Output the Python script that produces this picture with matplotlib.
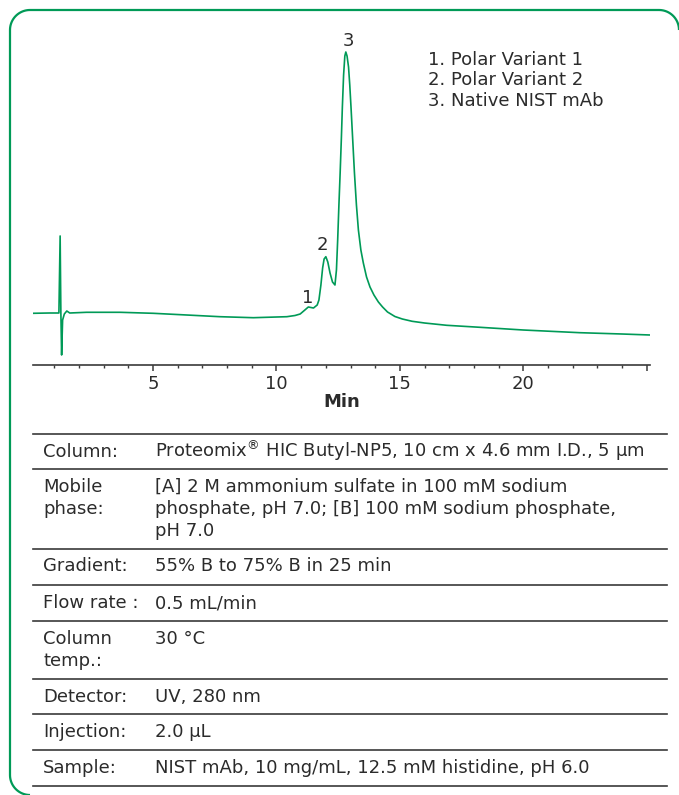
import numpy as np
import matplotlib
matplotlib.use("Agg")
import matplotlib.pyplot as plt
from matplotlib.patches import PathPatch
from matplotlib.path import Path
from matplotlib.lines import Line2D

# ---------------- data ----------------
time_min = [0.13, 0.8, 1.18, 1.23, 1.26, 1.29, 1.33, 1.40, 1.50, 1.62, 2.3, 3.66,
            5.0, 6.36, 7.71, 9.06, 10.42, 10.75, 10.96, 11.15, 11.29, 11.5, 11.65,
            11.72, 11.8, 11.87, 11.93, 12.0, 12.08, 12.17, 12.27, 12.37, 12.43,
            12.48, 12.53, 12.58, 12.63, 12.67, 12.72, 12.77, 12.81, 12.86, 12.92,
            12.97, 13.02, 13.09, 13.16, 13.24, 13.32, 13.42, 13.52, 13.65, 13.79,
            13.95, 14.13, 14.3, 14.5, 14.8, 15.1, 15.5, 16.0, 16.9, 18.25, 20.0,
            22.3, 24.0, 25.14]
signal = [51.7, 52, 52, 129, 52, 10, 45, 51, 54, 52, 52.7, 52.7,
          51.7, 50, 48.3, 47.3, 48.3, 49.5, 51, 55, 58, 57, 60,
          65, 80, 97, 106, 108.3, 103, 92, 83, 80, 95,
          125, 160, 192, 227, 258, 290, 309, 313, 309, 298,
          280, 258, 225, 192, 160, 135, 115, 102, 88, 78,
          70, 63, 58, 53, 48.5, 46, 43.7, 42, 39.7, 37.7, 35,
          32.3, 31, 30]

peak_labels = ["1", "2", "3"]
peak_label_time = [11.25, 11.85, 12.9]
peak_label_signal = [67, 120, 324]

legend_lines = ["1. Polar Variant 1", "2. Polar Variant 2", "3. Native NIST mAb"]

major_ticks = [5, 10, 15, 20, 25]
major_tick_labels = ["5", "10", "15", "20", ""]
minor_ticks = [1, 2, 3, 4, 6, 7, 8, 9, 11, 12, 13, 14, 16, 17, 18, 19, 21, 22, 23, 24]
x_label = "Min"

table_labels = ["Column:", "Mobile\nphase:", "Gradient:", "Flow rate :", "Column\ntemp.:",
                "Detector:", "Injection:", "Sample:"]
table_values = ["Proteomix$^{\\circledR}$ HIC Butyl-NP5, 10 cm x 4.6 mm I.D., 5 \u00b5m",
                "[A] 2 M ammonium sulfate in 100 mM sodium\nphosphate, pH 7.0; [B] 100 mM sodium phosphate,\npH 7.0",
                "55% B to 75% B in 25 min",
                "0.5 mL/min",
                "30 \u00b0C",
                "UV, 280 nm",
                "2.0 \u00b5L",
                "NIST mAb, 10 mg/mL, 12.5 mM histidine, pH 6.0"]

# ---------------- layout ----------------
W, H = 679, 795
GREEN = "#009a57"
DARK = "#2b2b2b"
plt.rcParams['font.family'] = ['DejaVu Sans']
plt.rcParams['mathtext.fontset'] = 'dejavusans'

fig = plt.figure(figsize=(W / 100, H / 100), dpi=100)

def fx(x):
    return x / W

def fy(y):
    return 1 - y / H

# green rounded frame: visible parts only (display px, origin bottom-left)
R = 20
left_x, right_x, top_y, bot_y = 10, 679, 785, 0

def arc(cx, cy, a0, a1, n=24):
    a = np.radians(np.linspace(a0, a1, n))
    return list(zip(cx + R * np.cos(a), cy + R * np.sin(a)))

pts = []
pts += arc(left_x + R, bot_y + R, 270, 180)
pts += arc(left_x + R, top_y - R, 180, 90)
pts += arc(right_x - R, top_y - R, 90, 0)
verts = [(x / 100, y / 100) for x, y in pts]
codes = [Path.MOVETO] + [Path.LINETO] * (len(verts) - 1)
frame = PathPatch(Path(verts, codes), transform=fig.dpi_scale_trans, fill=False,
                  edgecolor=GREEN, linewidth=1.6, capstyle='butt', joinstyle='round')
fig.add_artist(frame)

# chart axes
ax_l, ax_r, ax_b, ax_t = 33, 650, 365, 30
ax = fig.add_axes([fx(ax_l), fy(ax_b), fx(ax_r - ax_l), (ax_b - ax_t) / H])
ax.plot(time_min, signal, color=GREEN, linewidth=1.2, solid_joinstyle='round')
ax.set_xlim(0.13, 25.14)
ax.set_ylim(0, ax_b - ax_t)
for s in ["left", "right", "top"]:
    ax.spines[s].set_visible(False)
ax.spines["bottom"].set_color("#3a3a3a")
ax.spines["bottom"].set_linewidth(1.2)
ax.set_yticks([])
ax.set_xticks(major_ticks)
ax.set_xticklabels(major_tick_labels)
ax.set_xticks(minor_ticks, minor=True)
ax.tick_params(axis="x", which="major", direction="out", length=4.5, width=1.1,
               color="#3a3a3a", labelsize=13, labelcolor=DARK, pad=3)
ax.tick_params(axis="x", which="minor", direction="out", length=2.5, width=1.0,
               color="#3a3a3a")
ax.patch.set_alpha(0)

for lab, t, s in zip(peak_labels, peak_label_time, peak_label_signal):
    ax.text(t, s, lab, ha="center", va="center", fontsize=13, color=DARK)

fig.text(fx(342), fy(402), x_label, ha="center", va="center", fontsize=13,
         fontweight="bold", color=DARK)

for i, line in enumerate(legend_lines):
    fig.text(fx(428), fy([60, 80, 101][i]), line, ha="left", va="center",
             fontsize=13, color=DARK)

# table
rule_y = [434, 469, 549, 585, 621, 679, 714, 750, 786]
for y in rule_y:
    fig.add_artist(Line2D([fx(33), fx(667)], [fy(y), fy(y)], color="#3a3a3a",
                          linewidth=1.2, transform=fig.transFigure))

row_top = [443, 478, 557, 594, 630, 688, 723, 759]
for i, (lab, val, top) in enumerate(zip(table_labels, table_values, row_top)):
    if i == 0:
        base = top + 14
        fig.text(fx(43), fy(base), lab, ha="left", va="baseline", fontsize=13,
                 color=DARK)
        fig.text(fx(155), fy(base), val, ha="left", va="baseline", fontsize=13,
                 color=DARK)
        continue
    fig.text(fx(43), fy(top), lab, ha="left", va="top", fontsize=13, color=DARK,
             linespacing=1.3)
    fig.text(fx(155), fy(top), val, ha="left", va="top", fontsize=13, color=DARK,
             linespacing=1.3)

fig.savefig("out.png", dpi=100)
